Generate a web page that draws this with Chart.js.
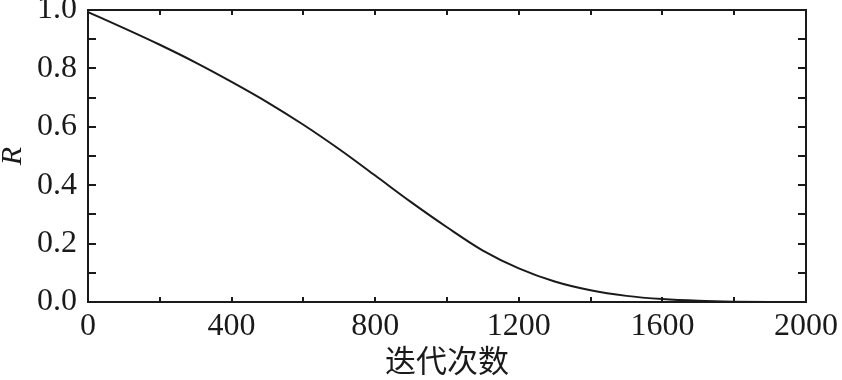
<!DOCTYPE html>
<html>
<head>
<meta charset="utf-8">
<script src="https://cdn.jsdelivr.net/npm/chart.js@4"></script>
<style>
  body { margin: 0; background: #fff; }
  #box { width: 842px; height: 380px; }
</style>
</head>
<body>
<div id="box"><canvas id="grafico"></canvas></div>
<script>
// iteracoes e valor de R
const iteracoes = [0, 100, 200, 300, 400, 500, 600, 700, 800, 900, 1000,
    1100, 1200, 1300, 1400, 1500, 1600, 1700, 1800, 1900, 2000];
const valoresR = [0.993, 0.938, 0.881, 0.820, 0.754, 0.684, 0.607, 0.523, 0.433, 0.342, 0.256,
    0.176, 0.115, 0.070, 0.040, 0.021, 0.010, 0.004, 0.001, 0.000, 0.000];
const rotuloX = '迭代次数';
const rotuloY = 'R';

const corEixo = '#1a1a1a';
const fonteNum = "'Liberation Serif', serif";

// ticks para dentro nos quatro lados + moldura
const marcasInternas = {
    id: 'marcasInternas',
    afterDraw(chart) {
        const { ctx, chartArea: a, scales: { x, y } } = chart;
        ctx.save();
        ctx.strokeStyle = corEixo;
        ctx.lineWidth = 2;
        ctx.strokeRect(a.left, a.top, a.right - a.left, a.bottom - a.top);
        ctx.beginPath();
        y.ticks.forEach(t => {
            const py = Math.round(y.getPixelForValue(t.value));
            ctx.moveTo(a.left, py); ctx.lineTo(a.left + 8, py);
            ctx.moveTo(a.right, py); ctx.lineTo(a.right - 8, py);
        });
        x.ticks.forEach(t => {
            const px = Math.round(x.getPixelForValue(t.value));
            ctx.moveTo(px, a.bottom); ctx.lineTo(px, a.bottom - 5);
            ctx.moveTo(px, a.top); ctx.lineTo(px, a.top + 5);
        });
        ctx.stroke();
        ctx.restore();
    }
};

const ctx = document.getElementById('grafico').getContext('2d');

let grafico = new Chart(ctx, {
    type: 'line',
    data: {
        datasets: [{
            data: iteracoes.map((v, i) => ({ x: v, y: valoresR[i] })),
            borderColor: corEixo,
            borderWidth: 2,
            pointRadius: 0,
            fill: false,
            cubicInterpolationMode: 'monotone'
        }]
    },
    options: {
        responsive: true,
        maintainAspectRatio: false,
        animation: false,
        layout: { padding: { left: 0, right: 36, top: 10, bottom: 0 } },
        plugins: { legend: { display: false }, tooltip: { enabled: false } },
        scales: {
            x: {
                type: 'linear',
                min: 0,
                max: 2000,
                grid: { drawOnChartArea: false, drawTicks: false },
                border: { display: false },
                afterFit: s => { s.height = 78; s.paddingLeft = 0; s.paddingRight = 0; },
                ticks: {
                    stepSize: 200,
                    padding: 5,
                    maxRotation: 0,
                    autoSkip: false,
                    color: corEixo,
                    font: { family: fonteNum, size: 32 },
                    callback: v => (v % 400 === 0 ? String(v) : '')
                },
                title: {
                    display: true,
                    text: rotuloX,
                    color: corEixo,
                    font: { family: 'Noto Sans CJK SC', size: 31, lineHeight: 1.2 },
                    padding: { top: 0, bottom: 1 }
                }
            },
            y: {
                min: 0,
                max: 1,
                grid: { drawOnChartArea: false, drawTicks: false },
                border: { display: false },
                afterFit: s => { s.width = 88; s.paddingTop = 0; s.paddingBottom = 0; },
                ticks: {
                    stepSize: 0.1,
                    padding: 11,
                    autoSkip: false,
                    color: corEixo,
                    font: { family: fonteNum, size: 32 },
                    callback: v => (Math.round(v * 10) % 2 === 0 ? v.toFixed(1) : '')
                },
                title: {
                    display: true,
                    text: rotuloY,
                    color: corEixo,
                    font: { family: fonteNum, size: 30, style: 'italic', lineHeight: 0.9 },
                    padding: 0
                }
            }
        }
    },
    plugins: [marcasInternas]
});
</script>
</body>
</html>
